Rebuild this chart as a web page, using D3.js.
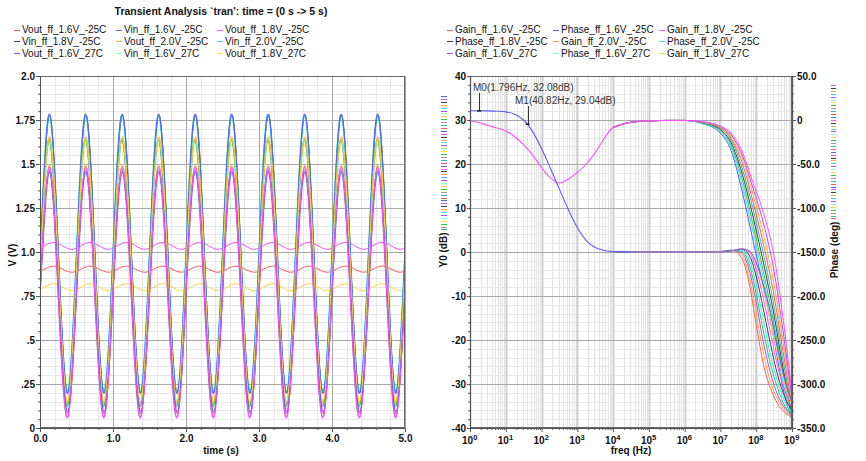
<!DOCTYPE html>
<html>
<head>
<meta charset="utf-8">
<script src="https://cdn.jsdelivr.net/npm/d3@7/dist/d3.min.js"></script>
<style>
  body { margin: 0; background: #fff; }
  svg text { font-family: "Liberation Sans", Arial, sans-serif; fill: #111; }
  .lbl { font-size: 10px; font-weight: bold; }
  .leg { font-size: 10px; }
  .mark { font-size: 10px; fill: #333; }
</style>
</head>
<body>
<svg id="chart" width="866" height="461"></svg>
<script>
// ---------------- data ----------------
var palette = ['#ff5a5a', '#5a5aff', '#ff4dff', '#404040', '#ffa833', '#33e0ff',
               '#a64dff', '#80ffcc', '#ffd633', '#33cc33', '#999999', '#2eb8b8'];

var tranLegend = ['Vout_ff_1.6V_-25C', 'Vin_ff_1.6V_-25C', 'Vout_ff_1.8V_-25C',
                  'Vin_ff_1.8V_-25C', 'Vout_ff_2.0V_-25C', 'Vin_ff_2.0V_-25C',
                  'Vout_ff_1.6V_27C', 'Vin_ff_1.6V_27C', 'Vout_ff_1.8V_27C'];
var acLegend = ['Gain_ff_1.6V_-25C', 'Phase_ff_1.6V_-25C', 'Gain_ff_1.8V_-25C',
                'Phase_ff_1.8V_-25C', 'Gain_ff_2.0V_-25C', 'Phase_ff_2.0V_-25C',
                'Gain_ff_1.6V_27C', 'Phase_ff_1.6V_27C', 'Gain_ff_1.8V_27C'];

// transient: 2 Hz waves, read as peak / trough (V) plus a small lag (s)
var waveColor  = [3, 11, 5, 1, 10, 7, 4, 9, 8, 0, 6, 1, 2];
var wavePeak   = [1.78, 1.775, 1.78, 1.785, 1.64, 1.635, 1.655, 1.64, 1.645, 1.49, 1.465, 1.455, 1.48];
var waveTrough = [0.20, 0.20, 0.205, 0.195, 0.13, 0.125, 0.14, 0.12, 0.15, 0.08, 0.06, 0.09, 0.055];
var waveLag    = [0.004, 0.002, -0.004, 0, -0.005, 0.005, 0.003, -0.003, 0, 0.002, -0.003, 0.004, 0];
// the three small outputs that barely move
var rippleColor  = [2, 0, 8];
var ripplePeak   = [1.055, 0.92, 0.82];
var rippleTrough = [1.015, 0.885, 0.78];
var rippleLag    = [0.06, 0.06, 0.06];
var quarterStep = 0.125; // s, a quarter of the 0.5 s period

var voltTicks = [0, 0.25, 0.5, 0.75, 1.0, 1.25, 1.5, 1.75, 2.0];
var voltTickText = ['0', '.25', '.5', '.75', '1.0', '1.25', '1.5', '1.75', '2.0'];
var timeTicks = [0, 1, 2, 3, 4, 5];
var timeTickText = ['0.0', '1.0', '2.0', '3.0', '4.0', '5.0'];

// ac: low frequency part, all runs lie on top of each other here
var lowExp   = [0, 0.25, 0.5, 0.75, 1, 1.25, 1.5, 1.75, 2, 2.25, 2.5, 2.75, 3, 3.25, 3.5, 3.75, 4, 4.5, 5, 5.5, 6];
var gainLow  = [32.1, 32.08, 32.07, 32.0, 31.84, 31.32, 30.0, 27.36, 23.5, 18.97, 14.23, 9.62, 5.55, 2.6, 1.0, 0.34, 0.11, 0.01, 0, 0, 0];
var phaseLow = [-0.8, -2.8, -6.2, -9, -12.5, -19, -28, -40, -54, -66, -71.5, -67, -59.5, -50, -37, -21, -8.5, -2.5, -1, -0.5, -0.5];
var lowSplit = 16; // index from which the runs are drawn one by one

// ac: high frequency roll-off, one row per run
var phaseFanExp = [6.5, 7, 7.3, 7.6, 7.9, 8.2, 8.5, 8.75, 9];
var phaseFan = [
  [-4, -15, -35, -80, -135, -190, -250, -305, -341],
  [-4, -14, -32, -73, -125, -180, -240, -298, -338],
  [-3.5, -12, -29, -66, -117, -172, -232, -290, -335],
  [-3, -11, -26, -60, -108, -162, -222, -282, -332],
  [-3, -10, -23, -54, -99, -152, -212, -273, -328],
  [-2.5, -9, -21, -48, -91, -141, -200, -263, -324],
  [-2.5, -8, -19, -43, -83, -130, -187, -252, -320],
  [-2, -7.5, -17, -39, -76, -117, -172, -240, -316],
  [-2, -7, -15, -35, -70, -105, -155, -225, -312]
];
var phaseFanColor = [1, 5, 9, 3, 11, 0, 4, 6, 2];

var gainFanExp = [6.5, 7, 7.3, 7.6, 7.8, 8.0, 8.2, 8.4, 8.6, 8.8, 9.0];
var gainFan = [
  [0, 0.1, 0.4, -1.5, -7, -16.5, -25.5, -31, -34.5, -36.5, -37.5],
  [0, 0.1, 0.4, -0.8, -5.5, -14, -23, -29.5, -33.5, -36, -37.3],
  [0, 0.1, 0.4, -0.2, -4, -11.5, -20.5, -27.5, -32.5, -35.5, -37],
  [0, 0.05, 0.35, 0.2, -2.7, -9.5, -18, -25.5, -31, -35, -36.8],
  [0, 0.05, 0.3, 0.4, -1.6, -7.5, -15.5, -23.5, -29.5, -34, -36.5],
  [0, 0, 0.3, 0.6, -0.7, -5.5, -13, -21, -28, -33, -36],
  [0, 0, 0.25, 0.7, 0, -4, -10.5, -18.5, -26, -31.5, -35.5],
  [0, 0, 0.2, 0.7, 0.3, -2.5, -8.5, -16, -23.5, -30, -35],
  [0, 0, 0.2, 0.7, 0.3, -2.5, -7.5, -14, -22, -29, -34]
];
var gainFanColor = [0, 4, 6, 9, 5, 3, 2, 8, 1];
var gainLowColor = 1, phaseLowColor = 2;

var markerName = ['M0', 'M1'];
var markerFreq = [1.796, 40.82];
var markerDb   = [32.08, 29.04];

var dbTicks = d3.range(-40, 41, 10);
var phaseTicks = d3.range(-350, 51, 50);
var decadeExp = d3.range(0, 10);

// ---------------- layout ----------------
var svg = d3.select('#chart');
var xT = d3.scaleLinear().domain([0, 5]).range([40, 405]);
var yV = d3.scaleLinear().domain([0, 2]).range([428, 76]);
var xF = d3.scaleLog().domain([1, 1e9]).range([470, 792]);
var yDb = d3.scaleLinear().domain([-40, 40]).range([428, 76]);
var yPh = d3.scaleLinear().domain([-350, 50]).range([428, 76]);

svg.append('defs').call(function (d) {
  d.append('clipPath').attr('id', 'clipT').append('rect').attr('x', 40).attr('y', 76).attr('width', 365).attr('height', 352);
  d.append('clipPath').attr('id', 'clipA').append('rect').attr('x', 470).attr('y', 76).attr('width', 322).attr('height', 352);
});

function styleAxis(g) {
  g.attr('font-family', null).attr('font-size', null);
  g.select('.domain').attr('stroke', '#555');
  g.selectAll('.tick line').attr('stroke', '#555');
  g.selectAll('.tick text').attr('class', 'lbl').attr('fill', '#111');
}

function hLines(g, vals, y, x0, x1, color, w) {
  g.append('g').selectAll('line').data(vals).join('line')
    .attr('x1', x0).attr('x2', x1)
    .attr('y1', function (d) { return Math.round(y(d)) + 0.5; })
    .attr('y2', function (d) { return Math.round(y(d)) + 0.5; })
    .attr('stroke', color).attr('stroke-width', w || 1);
}
function vLines(g, vals, x, y0, y1, color, w) {
  g.append('g').selectAll('line').data(vals).join('line')
    .attr('y1', y0).attr('y2', y1)
    .attr('x1', function (d) { return Math.round(x(d)) + 0.5; })
    .attr('x2', function (d) { return Math.round(x(d)) + 0.5; })
    .attr('stroke', color).attr('stroke-width', w || 1);
}

// ---------------- transient plot ----------------
var tran = svg.append('g');
vLines(tran, xT.ticks(25), xT, 76, 428, '#e6e6e6');
hLines(tran, yV.ticks(40), yV, 40, 405, '#e6e6e6');
vLines(tran, timeTicks, xT, 76, 428, '#a8a8a8');
hLines(tran, voltTicks, yV, 40, 405, '#a8a8a8');

function waveLine(peak, trough, lag) {
  var mid = (peak + trough) / 2;
  var levels = [mid, peak, mid, trough];
  var pts = d3.range(-1, 42).map(function (k) {
    return { t: k * quarterStep + lag, v: levels[((k % 4) + 4) % 4] };
  });
  return d3.line().x(function (d) { return xT(d.t); }).y(function (d) { return yV(d.v); })
    .curve(d3.curveNatural)(pts);
}

var tranLines = tran.append('g').attr('clip-path', 'url(#clipT)');
ripplePeak.forEach(function (p, i) {
  tranLines.append('path').attr('d', waveLine(p, rippleTrough[i], rippleLag[i]))
    .attr('fill', 'none').attr('stroke', palette[rippleColor[i]]).attr('stroke-width', 1);
});
wavePeak.forEach(function (p, i) {
  tranLines.append('path').attr('d', waveLine(p, waveTrough[i], waveLag[i]))
    .attr('fill', 'none').attr('stroke', palette[waveColor[i]]).attr('stroke-width', 1);
});

// frame and axes
tran.append('rect').attr('x', 40.5).attr('y', 76.5).attr('width', 364).attr('height', 351)
  .attr('fill', 'none').attr('stroke', '#666');
tran.append('g').attr('transform', 'translate(40,0)')
  .call(d3.axisLeft(yV).tickValues(yV.ticks(40)).tickSize(2).tickFormat(''))
  .call(styleAxis);
tran.append('g').attr('transform', 'translate(40,0)')
  .call(d3.axisLeft(yV).tickValues(voltTicks).tickSize(4).tickPadding(1)
    .tickFormat(function (d, i) { return voltTickText[i]; }))
  .call(styleAxis);
tran.append('g').attr('transform', 'translate(0,428)')
  .call(d3.axisBottom(xT).tickValues(xT.ticks(25)).tickSize(2).tickFormat(''))
  .call(styleAxis);
tran.append('g').attr('transform', 'translate(0,428)')
  .call(d3.axisBottom(xT).tickValues(timeTicks).tickSize(4).tickPadding(3)
    .tickFormat(function (d, i) { return timeTickText[i]; }))
  .call(styleAxis);

svg.append('text').attr('class', 'lbl').attr('x', 221).attr('y', 14.5)
  .attr('text-anchor', 'middle').style('font-size', '10.5px')
  .text("Transient Analysis `tran': time = (0 s -> 5 s)");
svg.append('text').attr('class', 'lbl').attr('text-anchor', 'middle')
  .attr('transform', 'translate(16,255) rotate(-90)').text('V (V)');
svg.append('text').attr('class', 'lbl').attr('text-anchor', 'middle')
  .attr('x', 221).attr('y', 454).text('time (s)');

// ---------------- ac plot ----------------
var ac = svg.append('g');
var minorFreqs = [];
decadeExp.slice(0, 9).forEach(function (e) {
  d3.range(2, 10).forEach(function (m) { minorFreqs.push(m * Math.pow(10, e)); });
});
vLines(ac, minorFreqs, xF, 76, 428, '#e2e2e2');
hLines(ac, d3.range(-40, 41, 2), yDb, 470, 792, '#e8e8e8');
vLines(ac, decadeExp.map(function (e) { return Math.pow(10, e); }), xF, 76, 428, '#cfcfcf', 2);
hLines(ac, dbTicks, yDb, 470, 792, '#a8a8a8');

var acLine = d3.line().curve(d3.curveMonotoneX);
var lowLine = d3.line().curve(d3.curveCatmullRom.alpha(0.5));
var acLines = ac.append('g').attr('clip-path', 'url(#clipA)');
function fx(e) { return xF(Math.pow(10, e)); }

// each run from the split point on
phaseFan.forEach(function (row, i) {
  var pts = lowExp.slice(lowSplit).map(function (e, j) { return [fx(e), yPh(phaseLow[lowSplit + j])]; })
    .concat(phaseFanExp.map(function (e, j) { return [fx(e), yPh(row[j])]; }));
  acLines.append('path').attr('d', acLine(pts)).attr('fill', 'none')
    .attr('stroke', palette[phaseFanColor[i]]).attr('stroke-width', 1);
});
gainFan.forEach(function (row, i) {
  var pts = lowExp.slice(lowSplit).map(function (e, j) { return [fx(e), yDb(gainLow[lowSplit + j])]; })
    .concat(gainFanExp.map(function (e, j) { return [fx(e), yDb(row[j])]; }));
  acLines.append('path').attr('d', acLine(pts)).attr('fill', 'none')
    .attr('stroke', palette[gainFanColor[i]]).attr('stroke-width', 1);
});
// shared low frequency part, drawn once on top
acLines.append('path')
  .attr('d', lowLine(lowExp.slice(0, lowSplit + 2).map(function (e, j) { return [fx(e), yPh(phaseLow[j])]; })))
  .attr('fill', 'none').attr('stroke', palette[phaseLowColor]).attr('stroke-width', 1.1);
acLines.append('path')
  .attr('d', lowLine(lowExp.slice(0, lowSplit + 2).map(function (e, j) { return [fx(e), yDb(gainLow[j])]; })))
  .attr('fill', 'none').attr('stroke', palette[gainLowColor]).attr('stroke-width', 1.1);

ac.append('rect').attr('x', 470.5).attr('y', 76.5).attr('width', 321).attr('height', 351)
  .attr('fill', 'none').attr('stroke', '#666');
ac.append('g').attr('transform', 'translate(470,0)')
  .call(d3.axisLeft(yDb).tickValues(d3.range(-40, 41, 2)).tickSize(2).tickFormat(''))
  .call(styleAxis);
ac.append('g').attr('transform', 'translate(470,0)')
  .call(d3.axisLeft(yDb).tickValues(dbTicks).tickSize(3).tickPadding(1)
    .tickFormat(function (d) { return String(d); }))
  .call(styleAxis);
ac.append('g').attr('transform', 'translate(792,0)')
  .call(d3.axisRight(yPh).tickValues(d3.range(-350, 51, 10)).tickSize(2).tickFormat(''))
  .call(styleAxis);
ac.append('g').attr('transform', 'translate(792,0)')
  .call(d3.axisRight(yPh).tickValues(phaseTicks).tickSize(4).tickPadding(1)
    .tickFormat(function (d) { return d === 0 ? '0' : d.toFixed(1); }))
  .call(styleAxis);
ac.append('g').attr('transform', 'translate(0,428)')
  .call(d3.axisBottom(xF).tickValues(minorFreqs).tickSize(2).tickFormat(''))
  .call(styleAxis);
ac.append('g').attr('transform', 'translate(0,428)')
  .call(d3.axisBottom(xF).tickValues(decadeExp.map(function (e) { return Math.pow(10, e); }))
    .tickSize(4).tickFormat(''))
  .call(styleAxis);
ac.append('g').selectAll('text').data(decadeExp).join('text')
  .attr('class', 'lbl')
  .attr('x', function (d) { return fx(d) - 8; })
  .attr('y', 444)
  .each(function (d) {
    var t = d3.select(this);
    t.append('tspan').text('10');
    t.append('tspan').attr('dy', -4).style('font-size', '7.5px').text(d);
  });

svg.append('text').attr('class', 'lbl').attr('text-anchor', 'middle')
  .attr('x', 631).attr('y', 454).text('freq (Hz)');
svg.append('text').attr('class', 'lbl').attr('text-anchor', 'middle')
  .attr('transform', 'translate(447,250) rotate(-90)').text('Y0 (dB)');
svg.append('text').attr('class', 'lbl').attr('text-anchor', 'middle')
  .attr('transform', 'translate(838,250) rotate(-90)').text('Phase (deg)');

// colour chips of the traces hooked to each y axis
var chipIdx = d3.range(47);
svg.append('g').selectAll('line').data(chipIdx).join('line')
  .attr('x1', 441).attr('x2', 447)
  .attr('y1', function (d) { return Math.round(96 + d * 2.9) + 0.5; })
  .attr('y2', function (d) { return Math.round(96 + d * 2.9) + 0.5; })
  .attr('stroke', function (d) { return palette[(d + 1) % palette.length]; });
svg.append('g').selectAll('line').data(chipIdx).join('line')
  .attr('x1', 831).attr('x2', 836)
  .attr('y1', function (d) { return Math.round(85 + d * 2.9) + 0.5; })
  .attr('y2', function (d) { return Math.round(85 + d * 2.9) + 0.5; })
  .attr('stroke', function (d) { return palette[(d + 2) % palette.length]; });

// markers
markerName.forEach(function (name, i) {
  var px = xF(markerFreq[i]), py = yDb(markerDb[i]);
  var lx = i === 0 ? 473 : 515, ly = i === 0 ? 91 : 104;
  ac.append('line').attr('x1', Math.round(px) + 0.5).attr('x2', Math.round(px) + 0.5)
    .attr('y1', ly + 2).attr('y2', py).attr('stroke', '#333');
  ac.append('line').attr('x1', px - 2).attr('x2', px + 2).attr('y1', py).attr('y2', py)
    .attr('stroke', '#222').attr('stroke-width', 1.5);
  ac.append('text').attr('class', 'mark').attr('x', lx).attr('y', ly)
    .text(name + '(' + markerFreq[i] + 'Hz, ' + markerDb[i].toFixed(2) + 'dB)');
});

// ---------------- legends ----------------
function legend(names, cols) {
  names.forEach(function (n, i) {
    var cx = cols[i % 3], cy = 29.5 + Math.floor(i / 3) * 11.8;
    svg.append('line').attr('x1', cx).attr('x2', cx + 6)
      .attr('y1', Math.round(cy) + 0.5).attr('y2', Math.round(cy) + 0.5)
      .attr('stroke', palette[i]);
    svg.append('text').attr('class', 'leg').attr('x', cx + 8).attr('y', cy + 3.5).text(n);
  });
}
legend(tranLegend, [14, 116, 217]);
legend(acLegend, [447, 553, 659]);
</script>
</body>
</html>
